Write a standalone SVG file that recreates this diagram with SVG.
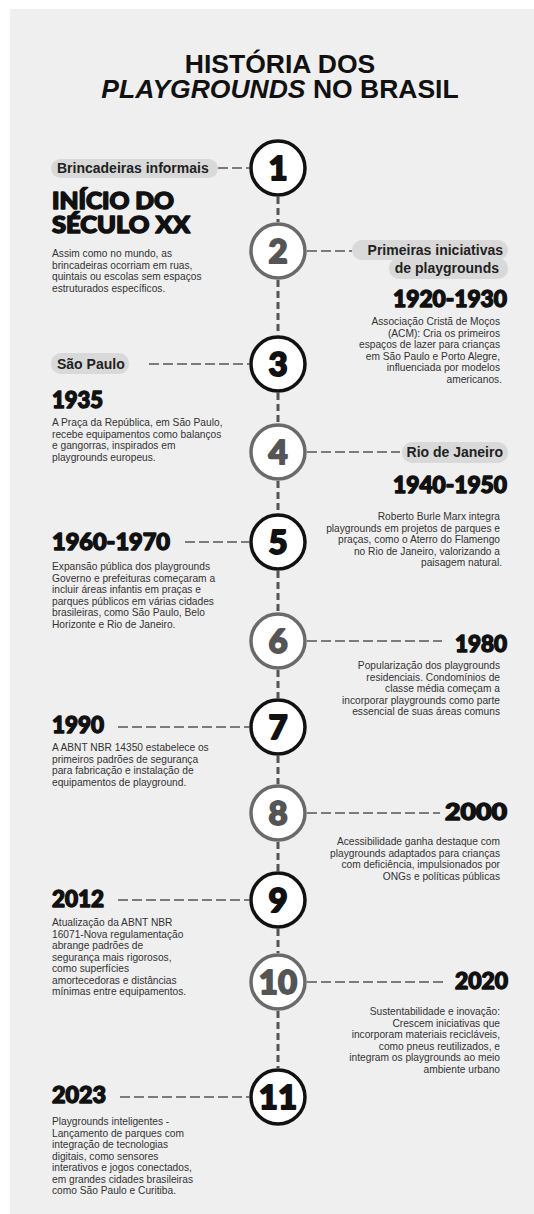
<svg xmlns="http://www.w3.org/2000/svg" width="534" height="1214" viewBox="0 0 534 1214">
<defs>
<style>
.title{font-family:"Liberation Sans",Arial,sans-serif;font-weight:bold;font-size:26.5px;fill:#111}
.pill{fill:#d9d9d9}
.pt{font-family:"Liberation Sans",Arial,sans-serif;font-weight:bold;font-size:14px;fill:#222}
.hd{font-family:Lato,"Liberation Sans",sans-serif;font-weight:900;font-size:22px;fill:#111;stroke:#111;stroke-width:1.4;stroke-linejoin:round}
.yr{font-family:Lato,"Liberation Sans",sans-serif;font-weight:900;font-size:22px;fill:#111;stroke:#111;stroke-width:1.4;stroke-linejoin:round}
.bd{font-family:"Liberation Sans",Arial,sans-serif;font-size:10.2px;fill:#333}
.r{text-anchor:end}
.co{fill:#fff;stroke:#111;stroke-width:3.5}
.ce{fill:#fff;stroke:#6a6a6a;stroke-width:3.5}
.no{font-family:Lato,"Liberation Sans",sans-serif;font-weight:900;font-size:33px;text-anchor:middle;fill:#111;stroke:#111;stroke-width:1.8;stroke-linejoin:round}
.ne{font-family:Lato,"Liberation Sans",sans-serif;font-weight:900;font-size:33px;text-anchor:middle;fill:#555;stroke:#555;stroke-width:1.8;stroke-linejoin:round}
.v{stroke:#555;stroke-width:3;stroke-dasharray:7 4;fill:none}
.h{stroke:#555;stroke-width:1.6;stroke-dasharray:10 4;fill:none}
</style>
</defs>
<rect x="0" y="0" width="534" height="1214" fill="#ffffff"/>
<rect x="10" y="9" width="524" height="1205" fill="#efefef"/>
<g id="title">
<text class="title" x="280" y="73" text-anchor="middle">HISTÓRIA DOS</text>
<text class="title" x="280" y="98" text-anchor="middle"><tspan font-style="italic">PLAYGROUNDS</tspan> NO BRASIL</text>
</g>
<g id="connectors">
<line class="v" x1="278" y1="197" x2="278" y2="222"/>
<line class="v" x1="278" y1="280" x2="278" y2="335"/>
<line class="v" x1="278" y1="393" x2="278" y2="423"/>
<line class="v" x1="278" y1="481" x2="278" y2="513"/>
<line class="v" x1="278" y1="571" x2="278" y2="612"/>
<line class="v" x1="278" y1="670" x2="278" y2="698"/>
<line class="v" x1="278" y1="756" x2="278" y2="784"/>
<line class="v" x1="278" y1="842" x2="278" y2="871"/>
<line class="v" x1="278" y1="929" x2="278" y2="953"/>
<line class="v" x1="278" y1="1011" x2="278" y2="1068"/>
<line class="h" x1="218" y1="168" x2="249" y2="168"/>
<line class="h" x1="307" y1="251" x2="352" y2="251"/>
<line class="h" x1="149" y1="364" x2="249" y2="364"/>
<line class="h" x1="307" y1="452" x2="400" y2="452"/>
<line class="h" x1="185" y1="542" x2="249" y2="542"/>
<line class="h" x1="307" y1="641" x2="442" y2="641"/>
<line class="h" x1="118" y1="727" x2="249" y2="727"/>
<line class="h" x1="307" y1="813" x2="440" y2="813"/>
<line class="h" x1="118" y1="900" x2="249" y2="900"/>
<line class="h" x1="307" y1="982" x2="443" y2="982"/>
<line class="h" x1="120" y1="1097" x2="249" y2="1097"/>
</g>
<g id="node1">
<circle class="co" cx="278" cy="168" r="27"/>
<text class="no" x="278" y="180">1</text>
<rect class="pill" x="51" y="159" width="167" height="19" rx="9.5"/>
<text class="pt" x="57" y="173" font-size="13.5">Brincadeiras informais</text>
<text class="hd" x="52" y="209" textLength="122" lengthAdjust="spacingAndGlyphs">INÍCIO DO</text>
<text class="hd" x="52" y="233" textLength="138" lengthAdjust="spacingAndGlyphs">SÉCULO XX</text>
<text class="bd" x="52" y="257">Assim como no mundo, as</text>
<text class="bd" x="52" y="268.5">brincadeiras ocorriam em ruas,</text>
<text class="bd" x="52" y="280">quintais ou escolas sem espaços</text>
<text class="bd" x="52" y="291.5">estruturados específicos.</text>
</g>
<g id="node2">
<circle class="ce" cx="278" cy="251" r="27"/>
<text class="ne" x="278" y="263">2</text>
<rect class="pill" x="352" y="240" width="156" height="20" rx="10"/>
<rect class="pill" x="389" y="258" width="119" height="21" rx="10"/>
<text class="pt r" x="503" y="255">Primeiras iniciativas</text>
<text class="pt r" x="499" y="273">de playgrounds</text>
<text class="yr r" x="507" y="307" textLength="114" lengthAdjust="spacingAndGlyphs">1920-1930</text>
<text class="bd r" x="500" y="325">Associação Cristã de Moços</text>
<text class="bd r" x="500" y="336.5">(ACM): Cria os primeiros</text>
<text class="bd r" x="500" y="348">espaços de lazer para crianças</text>
<text class="bd r" x="500" y="359.5">em São Paulo e Porto Alegre,</text>
<text class="bd r" x="500" y="371">influenciada por modelos</text>
<text class="bd r" x="502" y="382.5">americanos.</text>
</g>
<g id="node3">
<circle class="co" cx="278" cy="364" r="27"/>
<text class="no" x="278" y="376">3</text>
<rect class="pill" x="51" y="353" width="78" height="21" rx="10"/>
<text class="pt" x="57" y="368.5">São Paulo</text>
<text class="yr" x="52" y="408" textLength="51" lengthAdjust="spacingAndGlyphs">1935</text>
<text class="bd" x="52" y="426">A Praça da República, em São Paulo,</text>
<text class="bd" x="52" y="437.5">recebe equipamentos como balanços</text>
<text class="bd" x="52" y="449">e gangorras, inspirados em</text>
<text class="bd" x="52" y="460.5">playgrounds europeus.</text>
</g>
<g id="node4">
<circle class="ce" cx="278" cy="452" r="27"/>
<text class="ne" x="278" y="464">4</text>
<rect class="pill" x="402" y="442" width="106" height="21" rx="10"/>
<text class="pt r" x="503" y="457">Rio de Janeiro</text>
<text class="yr r" x="507" y="493" textLength="114" lengthAdjust="spacingAndGlyphs">1940-1950</text>
<text class="bd r" x="500" y="520">Roberto Burle Marx integra</text>
<text class="bd r" x="500" y="531.5">playgrounds em projetos de parques e</text>
<text class="bd r" x="500" y="543">praças, como o Aterro do Flamengo</text>
<text class="bd r" x="500" y="554.5">no Rio de Janeiro, valorizando a</text>
<text class="bd r" x="502" y="566">paisagem natural.</text>
</g>
<g id="node5">
<circle class="co" cx="278" cy="542" r="27"/>
<text class="no" x="278" y="554">5</text>
<text class="yr" x="52" y="550" textLength="118" lengthAdjust="spacingAndGlyphs">1960-1970</text>
<text class="bd" x="52" y="570">Expansão pública dos playgrounds</text>
<text class="bd" x="52" y="581.5">Governo e prefeituras começaram a</text>
<text class="bd" x="52" y="593">incluir áreas infantis em praças e</text>
<text class="bd" x="52" y="604.5">parques públicos em várias cidades</text>
<text class="bd" x="52" y="616">brasileiras, como São Paulo, Belo</text>
<text class="bd" x="52" y="627.5">Horizonte e Rio de Janeiro.</text>
</g>
<g id="node6">
<circle class="ce" cx="278" cy="641" r="27"/>
<text class="ne" x="278" y="653">6</text>
<text class="yr r" x="507" y="652" textLength="52" lengthAdjust="spacingAndGlyphs">1980</text>
<text class="bd r" x="500" y="669">Popularização dos playgrounds</text>
<text class="bd r" x="500" y="680.5">residenciais. Condomínios de</text>
<text class="bd r" x="500" y="692">classe média começam a</text>
<text class="bd r" x="500" y="703.5">incorporar playgrounds como parte</text>
<text class="bd r" x="500" y="715">essencial de suas áreas comuns</text>
</g>
<g id="node7">
<circle class="co" cx="278" cy="727" r="27"/>
<text class="no" x="278" y="739">7</text>
<text class="yr" x="52" y="733" textLength="52" lengthAdjust="spacingAndGlyphs">1990</text>
<text class="bd" x="52" y="751">A ABNT NBR 14350 estabelece os</text>
<text class="bd" x="52" y="762.5">primeiros padrões de segurança</text>
<text class="bd" x="52" y="774">para fabricação e instalação de</text>
<text class="bd" x="52" y="785.5">equipamentos de playground.</text>
</g>
<g id="node8">
<circle class="ce" cx="278" cy="813" r="27"/>
<text class="ne" x="278" y="825">8</text>
<text class="yr r" x="507" y="820" textLength="62" lengthAdjust="spacingAndGlyphs">2000</text>
<text class="bd r" x="500" y="845">Acessibilidade ganha destaque com</text>
<text class="bd r" x="500" y="856.5">playgrounds adaptados para crianças</text>
<text class="bd r" x="500" y="868">com deficiência, impulsionados por</text>
<text class="bd r" x="500" y="879.5">ONGs e políticas públicas</text>
</g>
<g id="node9">
<circle class="co" cx="278" cy="900" r="27"/>
<text class="no" x="278" y="912">9</text>
<text class="yr" x="52" y="907" textLength="52" lengthAdjust="spacingAndGlyphs">2012</text>
<text class="bd" x="52" y="926">Atualização da ABNT NBR</text>
<text class="bd" x="52" y="937.5">16071-Nova regulamentação</text>
<text class="bd" x="52" y="949">abrange padrões de</text>
<text class="bd" x="52" y="960.5">segurança mais rigorosos,</text>
<text class="bd" x="52" y="972">como superfícies</text>
<text class="bd" x="52" y="983.5">amortecedoras e distâncias</text>
<text class="bd" x="52" y="995">mínimas entre equipamentos.</text>
</g>
<g id="node10">
<circle class="ce" cx="278" cy="982" r="27"/>
<text class="ne" x="278" y="994">10</text>
<text class="yr r" x="508" y="989" textLength="53" lengthAdjust="spacingAndGlyphs">2020</text>
<text class="bd r" x="500" y="1015">Sustentabilidade e inovação:</text>
<text class="bd r" x="500" y="1026.5">Crescem iniciativas que</text>
<text class="bd r" x="500" y="1038">incorporam materiais recicláveis,</text>
<text class="bd r" x="500" y="1049.5">como pneus reutilizados, e</text>
<text class="bd r" x="500" y="1061">integram os playgrounds ao meio</text>
<text class="bd r" x="500" y="1072.5">ambiente urbano</text>
</g>
<g id="node11">
<circle class="co" cx="278" cy="1097" r="27"/>
<text class="no" x="278" y="1109">11</text>
<text class="yr" x="52" y="1103" textLength="54" lengthAdjust="spacingAndGlyphs">2023</text>
<text class="bd" x="52" y="1125">Playgrounds inteligentes -</text>
<text class="bd" x="52" y="1136.5">Lançamento de parques com</text>
<text class="bd" x="52" y="1148">integração de tecnologias</text>
<text class="bd" x="52" y="1159.5">digitais, como sensores</text>
<text class="bd" x="52" y="1171">interativos e jogos conectados,</text>
<text class="bd" x="52" y="1182.5">em grandes cidades brasileiras</text>
<text class="bd" x="52" y="1194">como São Paulo e Curitiba.</text>
</g>
</svg>
